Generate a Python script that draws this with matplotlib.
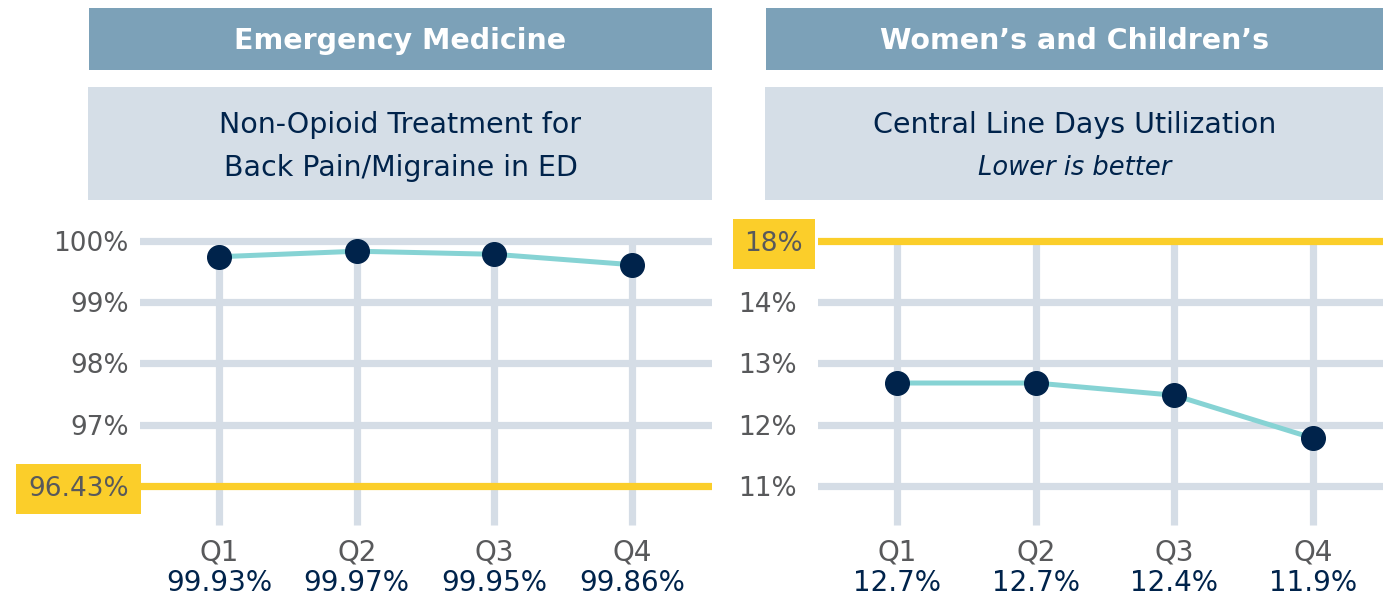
import numpy as np
import matplotlib
matplotlib.use("Agg")
import matplotlib.pyplot as plt
import matplotlib.patches as pat
import matplotlib.transforms as mtrans

# ---- data ----
quarters = ["Q1", "Q2", "Q3", "Q4"]

em_ticks = [96.43, 97, 98, 99, 100]
em_target = 96.43
em_values = ["99.93%", "99.97%", "99.95%", "99.86%"]
em_levels = [99.74, 99.83, 99.78, 99.61]   # marker heights as drawn in the chart

wc_ticks = [11, 12, 13, 14, 18]
wc_target = 18
wc_values = ["12.7%", "12.7%", "12.4%", "11.9%"]
wc_levels = [12.68, 12.68, 12.48, 11.78]

# ---- styling ----
W, H = 1383, 600
HEAD = "#7ca1b8"
SUB = "#d5dee7"
GRID = "#d5dde6"
NAVY = "#00234b"
TEAL = "#86d3d4"
YELLOW = "#fbce2a"
GRAY = "#58595b"
STEP = 61.3   # pixels per tick step
BASE = 486    # pixel row of the lowest tick

plt.rcParams['font.family'] = ['DejaVu Sans']

fig = plt.figure(figsize=(W / 100, H / 100), dpi=100)


def fig_box(x0, x1, y0, y1, color):
    fig.patches.append(pat.Rectangle((x0 / W, 1 - y1 / H), (x1 - x0) / W, (y1 - y0) / H,
                                     transform=fig.transFigure, facecolor=color,
                                     edgecolor='none', zorder=-1))


def panel(x0, x1, hx0, xq0, xstep, ticks, target, levels, values, head, sub1, sub2,
          italic2, tickpad, tshift):
    cx = (hx0 + x1) / 2 / W
    fig_box(hx0, x1, 8, 70, HEAD)
    fig_box(hx0 - 1, x1, 87, 200, SUB)
    fig.text(cx, 1 - 41 / H, head, ha='center', va='center', color='white',
             fontsize=20.5, fontweight='bold')
    fig.text(cx, 1 - 125 / H, sub1, ha='center', va='center', color=NAVY, fontsize=20.5)
    fig.text(cx, 1 - 168 / H, sub2, ha='center', va='center', color=NAVY,
             fontsize=18.5 if italic2 else 20.5, style='italic' if italic2 else 'normal')

    ax = fig.add_axes([x0 / W, 1 - 530 / H, (x1 - x0) / W, 330 / H])
    ax.set_xlim((x0 - xq0) / xstep, (x1 - xq0) / xstep)
    ax.set_ylim((BASE - 530) / STEP, (BASE - 200) / STEP)
    for s in ax.spines.values():
        s.set_visible(False)

    pos = np.arange(len(ticks))
    tpos = ticks.index(target)
    top = pos.max()
    for p in pos:
        if p == tpos:
            ax.axhline(p, color=YELLOW, lw=5.2, zorder=2)
        else:
            ax.axhline(p, color=GRID, lw=5.2, zorder=1)

    x = np.arange(len(quarters))
    vtop = top if tpos != top else top - 0.05
    ax.vlines(x, (BASE - 525) / STEP, vtop, color=GRID, lw=5.2, zorder=1)

    lv = np.interp(levels, ticks, pos)
    ax.plot(x, lv, color=TEAL, lw=3.6, zorder=3)
    ax.plot(x, lv, 'o', color=NAVY, ms=17, zorder=4)

    ax.set_yticks(pos, [f"{t:g}%" for t in ticks])
    ax.tick_params(axis='y', length=0, pad=tickpad, labelsize=19, labelcolor=GRAY)
    lab = ax.get_yticklabels()[tpos]
    lab.set_bbox(dict(facecolor=YELLOW, edgecolor='none', boxstyle='square,pad=0.45'))
    if tshift:
        lab.set_transform(lab.get_transform() +
                          mtrans.ScaledTranslation(tshift / 100, 0, fig.dpi_scale_trans))

    ax.set_xticks(x, quarters)
    ax.tick_params(axis='x', length=0, pad=6, labelsize=20, labelcolor=GRAY)
    for i, v in enumerate(values):
        ax.text(i, (BASE - 583) / STEP, v, ha='center', va='center', color=NAVY,
                fontsize=20, clip_on=False)
    return ax


panel(140, 712, 89, 219, 137.7, em_ticks, em_target, em_levels, em_values,
      "Emergency Medicine", "Non-Opioid Treatment for", "Back Pain/Migraine in ED", False, 8, 0)
panel(818, 1383, 766, 897, 138.7, wc_ticks, wc_target, wc_levels, wc_values,
      "Women\u2019s and Children\u2019s", "Central Line Days Utilization", "Lower is better",
      True, 15, 6)

plt.savefig("out.png", dpi=100)
